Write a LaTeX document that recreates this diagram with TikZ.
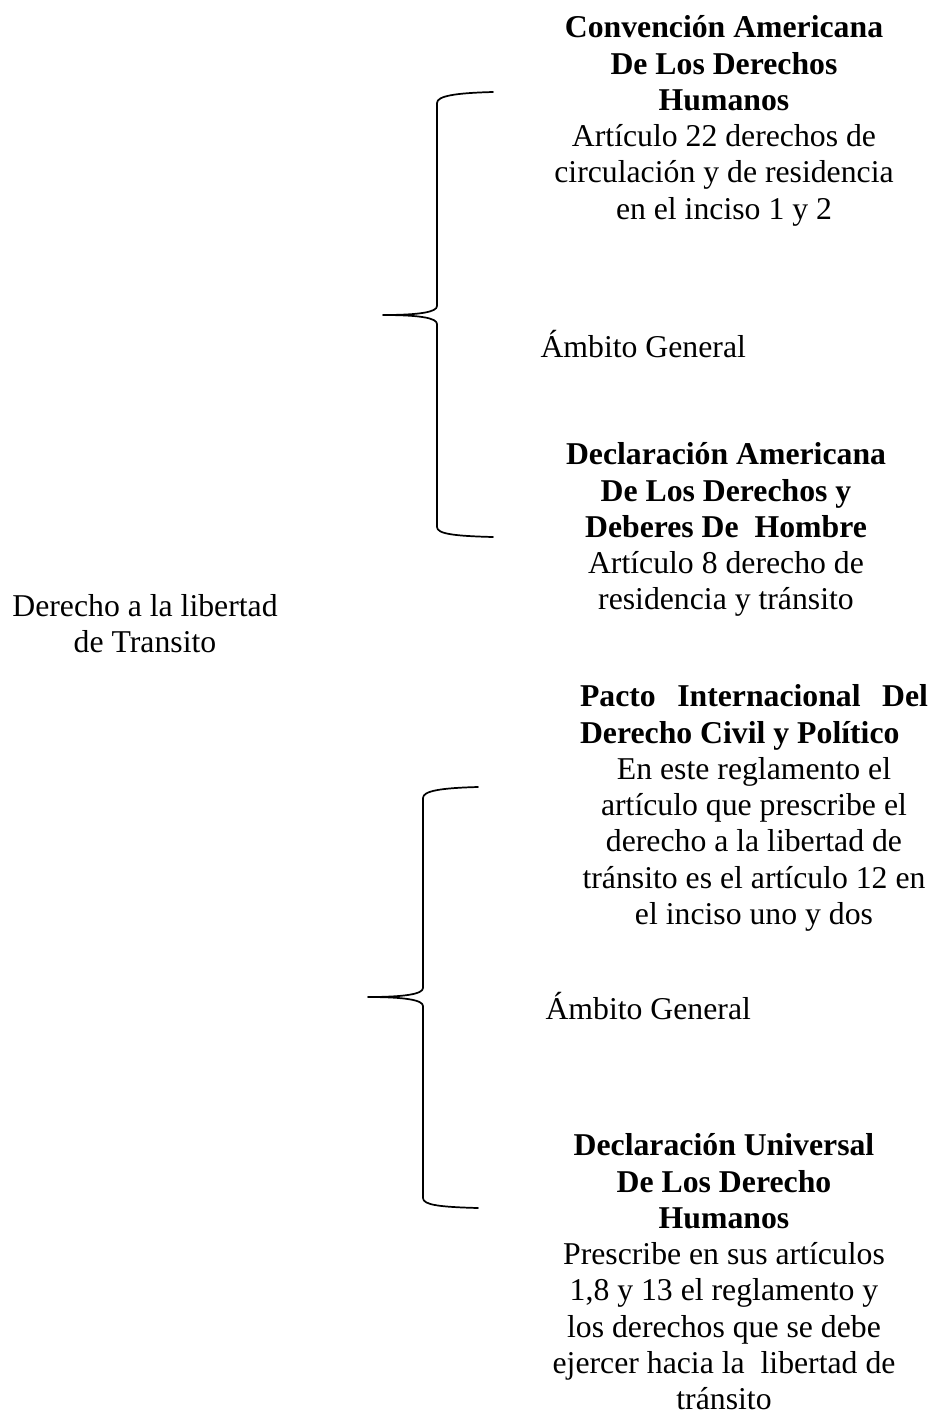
\documentclass[tikz,border=0pt]{standalone}
\usepackage{fontspec}
\setmainfont{Liberation Serif}
\newcommand{\fl}{\rule{0pt}{12pt}}
\newlength{\pw}
\setlength{\pw}{131.5pt}
\begin{document}
\begin{tikzpicture}[x=0.378pt,y=-0.378pt,
  txt/.style={font=\fontsize{12}{13.72}\selectfont, inner sep=0pt, align=center, anchor=north},
  lbl/.style={font=\fontsize{12}{13.72}\selectfont, inner sep=0pt, anchor=base west},
  bracestyle/.style={line width=0.65pt, line join=round, line cap=round}]
\useasboundingbox (0,0) rectangle (933,1416);

% texts
\node[txt] (conv) at (724,5.5) {\fl\textbf{Convención Americana}\\ \textbf{De Los Derechos}\\ \textbf{Humanos}\\ Artículo 22 derechos de\\ circulación y de residencia\\ en el inciso 1 y 2};
\node[lbl] (amb1) at (540,357.5) {Ámbito General};
\node[txt] (decl) at (726,432.5) {\fl\textbf{Declaración Americana}\\ \textbf{De Los Derechos y}\\ \textbf{Deberes De\ \ Hombre}\hspace*{4pt}\\ Artículo 8 derecho de\\ residencia y tránsito};
\node[txt] (main) at (145,584) {\fl Derecho a la libertad\\ de Transito};
\node[txt] (pacto) at (754,674.5) {\fl\makebox[\pw][s]{\bfseries Pacto Internacional Del}\\ \makebox[\pw][l]{\bfseries Derecho Civil y Político}\\ En este reglamento el\\ artículo que prescribe el\\ derecho a la libertad de\\ tránsito es el artículo 12 en\\ el inciso uno y dos};
\node[lbl] (amb2) at (545,1019.5) {Ámbito General};
\node[txt] (univ) at (724,1123.5) {\fl\textbf{Declaración Universal}\\ \textbf{De Los Derecho}\\ \textbf{Humanos}\\ Prescribe en sus artículos\\ 1,8 y 13 el reglamento y\\ los derechos que se debe\\ ejercer hacia la\ \ libertad de\\ tránsito};

% brace 1
\coordinate (b1t) at (493,92);
\coordinate (b1m) at (383,315);
\coordinate (b1b) at (493,537);
\draw[bracestyle] (b1t) .. controls (455,93) and (437,96) .. (437,103)
  -- (437,306) .. controls (437,312) and (420,315) .. (b1m)
  .. controls (420,315) and (437,318) .. (437,324)
  -- (437,527) .. controls (437,534) and (455,536) .. (b1b);

% brace 2
\coordinate (b2t) at (478,787);
\coordinate (b2m) at (368,997);
\coordinate (b2b) at (478,1208);
\draw[bracestyle] (b2t) .. controls (440,788) and (423,791) .. (423,798)
  -- (423,988) .. controls (423,994) and (405,997) .. (b2m)
  .. controls (405,997) and (423,1000) .. (423,1006)
  -- (423,1198) .. controls (423,1205) and (440,1207) .. (b2b);
\end{tikzpicture}
\end{document}
